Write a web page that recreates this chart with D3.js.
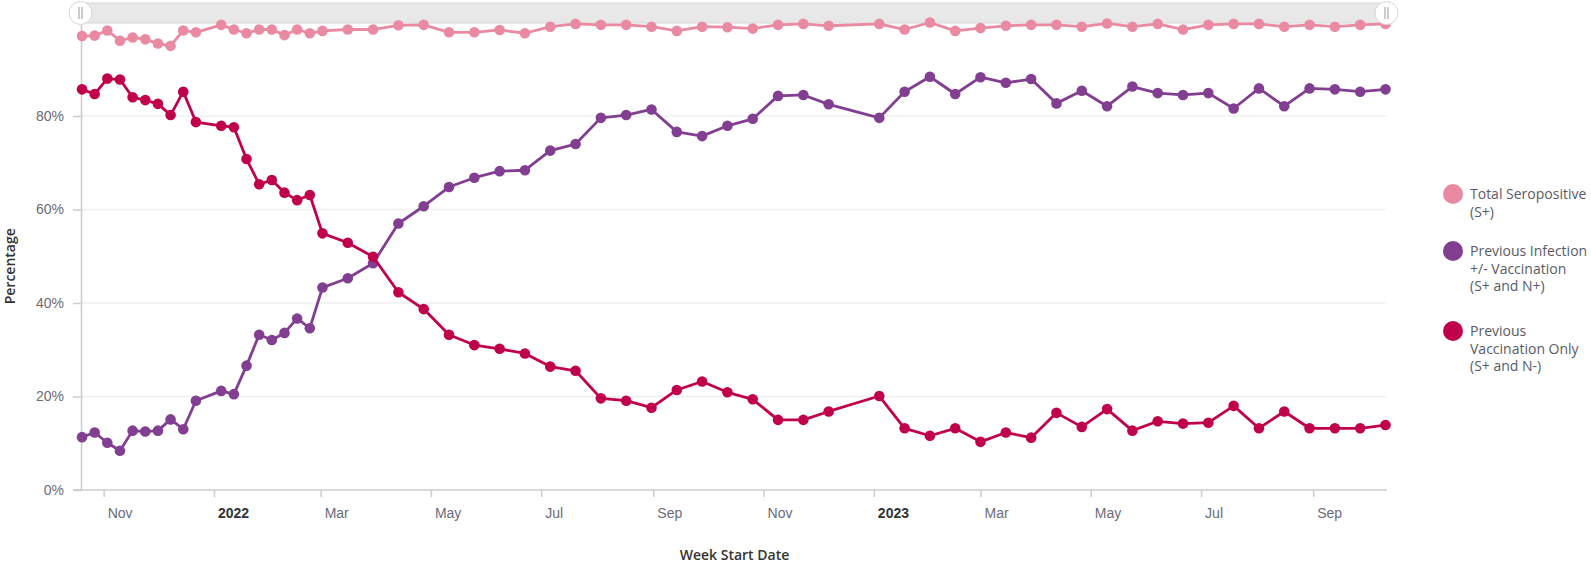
<!DOCTYPE html>
<html>
<head>
<meta charset="utf-8">
<script src="https://cdn.jsdelivr.net/npm/d3@7"></script>
<style>
  body { margin: 0; background: #fff; }
  svg { font-family: 'Open Sans', sans-serif; }
</style>
</head>
<body>
<svg id="chart" width="1591" height="565"></svg>
<script>
/* week start dates (gaps are real: some weeks missing) */
const weekDates = [
  '2021-10-20', '2021-10-27', '2021-11-03', '2021-11-10', '2021-11-17',
  '2021-11-24', '2021-12-01', '2021-12-08', '2021-12-15', '2021-12-22',
  '2022-01-05', '2022-01-12', '2022-01-19', '2022-01-26', '2022-02-02',
  '2022-02-09', '2022-02-16', '2022-02-23', '2022-03-02', '2022-03-16',
  '2022-03-30', '2022-04-13', '2022-04-27', '2022-05-11', '2022-05-25',
  '2022-06-08', '2022-06-22', '2022-07-06', '2022-07-20', '2022-08-03',
  '2022-08-17', '2022-08-31', '2022-09-14', '2022-09-28', '2022-10-12',
  '2022-10-26', '2022-11-09', '2022-11-23', '2022-12-07', '2023-01-04',
  '2023-01-18', '2023-02-01', '2023-02-15', '2023-03-01', '2023-03-15',
  '2023-03-29', '2023-04-12', '2023-04-26', '2023-05-10', '2023-05-24',
  '2023-06-07', '2023-06-21', '2023-07-05', '2023-07-19', '2023-08-02',
  '2023-08-16', '2023-08-30', '2023-09-13', '2023-09-27', '2023-10-11'
]

/* series values, per cent */
const totalSeropositive = [
  97.1, 97.2, 98.3, 96.1, 96.8, 96.4, 95.5, 95.0, 98.3, 97.9,
  99.5, 98.5, 97.7, 98.5, 98.5, 97.3, 98.5, 97.7, 98.2, 98.5,
  98.5, 99.4, 99.5, 97.9, 97.9, 98.4, 97.7, 99.1, 99.7, 99.5,
  99.5, 99.1, 98.2, 99.1, 99.0, 98.7, 99.5, 99.7, 99.3, 99.7,
  98.5, 100, 98.2, 98.8, 99.3, 99.5, 99.5, 99.1, 99.8, 99.1,
  99.7, 98.5, 99.5, 99.7, 99.7, 99.1, 99.5, 99.1, 99.5, 99.7
]
const prevInfection = [
  11.3, 12.3, 10.1, 8.4, 12.7, 12.5, 12.7, 15.1, 13.0, 19.1,
  21.2, 20.5, 26.6, 33.2, 32.1, 33.6, 36.7, 34.6, 43.3, 45.3,
  48.5, 57.0, 60.7, 64.8, 66.8, 68.2, 68.4, 72.6, 74.0, 79.6,
  80.2, 81.4, 76.6, 75.7, 77.9, 79.4, 84.3, 84.5, 82.5, 79.6,
  85.2, 88.4, 84.7, 88.3, 87.1, 87.9, 82.7, 85.4, 82.1, 86.3,
  84.9, 84.5, 84.9, 81.6, 85.9, 82.1, 85.9, 85.7, 85.2, 85.7
]
const prevVaccOnly = [
  85.7, 84.7, 88.0, 87.8, 84.0, 83.4, 82.6, 80.2, 85.2, 78.7,
  77.9, 77.6, 70.8, 65.4, 66.3, 63.6, 62.0, 63.1, 54.9, 52.9,
  49.9, 42.3, 38.7, 33.2, 31.0, 30.2, 29.2, 26.4, 25.5, 19.6,
  19.1, 17.6, 21.4, 23.2, 20.9, 19.4, 15.0, 15.0, 16.8, 20.1,
  13.2, 11.6, 13.2, 10.3, 12.3, 11.2, 16.5, 13.5, 17.3, 12.7,
  14.7, 14.2, 14.4, 18.0, 13.2, 16.8, 13.2, 13.2, 13.2, 13.9
]

/* series names / colours for the legend */
const seriesNames = [
  ['Total Seropositive', '(S+)'],
  ['Previous Infection', '+/- Vaccination', '(S+ and N+)'],
  ['Previous', 'Vaccination Only', '(S+ and N-)']
]
const seriesColors = ['#ea8aa2', '#823e91', '#c1004b']

/* axis ticks */
const yTicks = [0, 20, 40, 60, 80]
const xTickDates = [
  '2021-11-01', '2022-01-01', '2022-03-01', '2022-05-01', '2022-07-01',
  '2022-09-01', '2022-11-01', '2023-01-01', '2023-03-01', '2023-05-01',
  '2023-07-01', '2023-09-01'
]

/* plot area */
const plotLeft = 82
const plotRight = 1387
const plotTop = 22.5
const plotBottom = 490

const parseDate = d3.utcParse('%Y-%m-%d')
const dates = weekDates.map(parseDate)

const xScale = d3
  .scaleUtc()
  .domain(d3.extent(dates))
  .range([plotLeft, 1385.5])
const yScale = d3.scaleLinear().domain([0, 100]).range([plotBottom, plotTop])

const svg = d3.select('#chart')

/* gridlines */
svg
  .append('g')
  .selectAll('line')
  .data(yTicks.filter((d) => d > 0))
  .join('line')
  .attr('x1', plotLeft)
  .attr('x2', plotRight)
  .attr('y1', (d) => yScale(d))
  .attr('y2', (d) => yScale(d))
  .attr('stroke', '#f0f0f0')
  .attr('stroke-width', 1.5)

/* scrollbar band along the top */
const bar = svg.append('g').attr('class', 'scrollbar')
bar
  .append('rect')
  .attr('x', plotLeft - 2)
  .attr('y', 3)
  .attr('width', plotRight - plotLeft + 2)
  .attr('height', 20)
  .attr('fill', '#e8e8e8')
  .attr('stroke', '#d8d8d8')
  .attr('stroke-width', 1)

/* y axis */
const yAxis = d3
  .axisLeft(yScale)
  .tickValues(yTicks)
  .tickSize(9)
  .tickPadding(9)
  .tickFormat((d) => d + '%')
svg
  .append('g')
  .attr('transform', `translate(${plotLeft},0)`)
  .call(yAxis)
  .call((g) => g.select('.domain').remove())
  .call((g) => g.selectAll('line').attr('stroke', '#cccccc').attr('stroke-width', 1.5))
  .call((g) =>
    g.selectAll('text').attr('fill', '#6b6b78').attr('font-size', 14)
  )
svg
  .append('line')
  .attr('x1', plotLeft - 0.5)
  .attr('x2', plotLeft - 0.5)
  .attr('y1', plotTop)
  .attr('y2', plotBottom)
  .attr('stroke', '#cccccc')
  .attr('stroke-width', 1.5)

/* x axis: labels start just right of each tick */
const xAxis = d3
  .axisBottom(xScale)
  .tickValues(xTickDates.map(parseDate))
  .tickSize(7)
  .tickPadding(11)
  .tickFormat((d) =>
    d.getUTCMonth() === 0 ? d3.utcFormat('%Y')(d) : d3.utcFormat('%b')(d)
  )
svg
  .append('g')
  .attr('transform', `translate(0,${plotBottom})`)
  .call(xAxis)
  .call((g) => g.select('.domain').remove())
  .call((g) => g.selectAll('line').attr('stroke', '#cccccc').attr('stroke-width', 1.5))
  .call((g) =>
    g
      .selectAll('text')
      .attr('font-size', 14)
      .attr('text-anchor', 'start')
      .attr('dx', 3.5)
      .attr('fill', (d) => (d.getUTCMonth() === 0 ? '#333' : '#6b6b78'))
      .attr('font-weight', (d) => (d.getUTCMonth() === 0 ? 700 : 400))
  )
svg
  .append('line')
  .attr('x1', plotLeft - 9)
  .attr('x2', plotRight)
  .attr('y1', plotBottom)
  .attr('y2', plotBottom)
  .attr('stroke', '#cccccc')
  .attr('stroke-width', 1.5)

/* axis titles */
svg
  .append('text')
  .attr('transform', `translate(15,${(plotTop + plotBottom) / 2 + 10}) rotate(-90)`)
  .attr('text-anchor', 'middle')
  .attr('font-size', 14)
  .attr('font-weight', 600)
  .attr('fill', '#333')
  .text('Percentage')
svg
  .append('text')
  .attr('x', (plotLeft + plotRight) / 2)
  .attr('y', 560)
  .attr('text-anchor', 'middle')
  .attr('font-size', 14)
  .attr('font-weight', 600)
  .attr('fill', '#333')
  .text('Week Start Date')

/* series */
const allSeries = [totalSeropositive, prevInfection, prevVaccOnly]
const line = d3
  .line()
  .x((d) => xScale(d.date))
  .y((d) => yScale(d.value))

allSeries.forEach(function (values, i) {
  const pts = values.map((v, j) => ({ date: dates[j], value: v }))
  const g = svg.append('g').attr('class', 'series')
  g.append('path')
    .datum(pts)
    .attr('d', line)
    .attr('fill', 'none')
    .attr('stroke', seriesColors[i])
    .attr('stroke-width', 2.8)
    .attr('stroke-linejoin', 'round')
  g.selectAll('circle')
    .data(pts)
    .join('circle')
    .attr('cx', (d) => xScale(d.date))
    .attr('cy', (d) => yScale(d.value))
    .attr('r', 5.3)
    .attr('fill', seriesColors[i])
})

/* scrollbar handles (on top) */
;[plotLeft - 1.5, plotRight - 0.5].forEach(function (hx) {
  const h = svg.append('g').attr('transform', `translate(${hx},13)`)
  h.append('circle')
    .attr('r', 11.5)
    .attr('fill', '#fff')
    .attr('stroke', '#d6d6d6')
    .attr('stroke-width', 1)
  h.append('line').attr('x1', -1.5).attr('x2', -1.5).attr('y1', -6).attr('y2', 6)
    .attr('stroke', '#999').attr('stroke-width', 1)
  h.append('line').attr('x1', 1.5).attr('x2', 1.5).attr('y1', -6).attr('y2', 6)
    .attr('stroke', '#999').attr('stroke-width', 1)
})

/* legend */
const legendTops = [194, 251, 331]
const legend = svg.append('g').attr('class', 'legend')
seriesNames.forEach(function (lines, i) {
  const g = legend.append('g').attr('transform', `translate(1453,${legendTops[i]})`)
  g.append('circle').attr('r', 10).attr('fill', seriesColors[i])
  g.append('text')
    .attr('x', 17)
    .attr('y', 5)
    .attr('font-size', 14)
    .attr('fill', '#5a5a66')
    .selectAll('tspan')
    .data(lines)
    .join('tspan')
    .attr('x', 17)
    .attr('dy', (d, k) => (k === 0 ? 0 : 17.5))
    .text((d) => d)
})
</script>
</body>
</html>
